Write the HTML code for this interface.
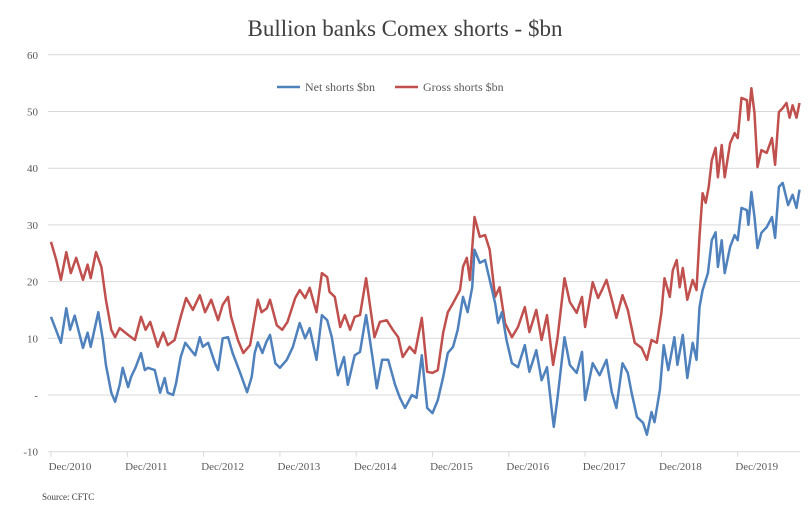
<!DOCTYPE html>
<html><head><meta charset="utf-8"><style>
body{margin:0;background:#fff;}
svg{display:block;font-family:"Liberation Serif",serif;}
</style></head><body>
<svg width="810" height="508" viewBox="0 0 810 508">
<text x="405" y="36" text-anchor="middle" font-size="23" fill="#404040">Bullion banks Comex shorts - $bn</text>
<g id="grid"></g><g id="axes"></g><g id="series"></g>
<g>
<line x1="277" y1="87" x2="300" y2="87" stroke="#4f81bd" stroke-width="2.5"/>
<text x="305" y="91" font-size="12" fill="#595959">Net shorts $bn</text>
<line x1="395" y1="87" x2="418" y2="87" stroke="#c0504d" stroke-width="2.5"/>
<text x="423" y="91" font-size="12" fill="#595959">Gross shorts $bn</text>
</g>
<text x="42" y="500" font-size="9" fill="#404040">Source: CFTC</text>
</svg>
<script>
const yTicks=[60,50,40,30,20,10,0,-10];
const yTickLabels=["60","50","40","30","20","10","-","-10"];
const xTicks=[2010.92,2011.92,2012.92,2013.92,2014.92,2015.92,2016.92,2017.92,2018.92,2019.92];
const xTickLabels=["Dec/2010","Dec/2011","Dec/2012","Dec/2013","Dec/2014","Dec/2015","Dec/2016","Dec/2017","Dec/2018","Dec/2019"];
const netDates=[2010.92,2011.05,2011.12,2011.17,2011.23,2011.34,2011.40,2011.44,2011.54,2011.60,2011.64,2011.71,2011.76,2011.82,2011.86,2011.93,2011.97,2012.03,2012.10,2012.15,2012.19,2012.28,2012.35,2012.41,2012.45,2012.52,2012.56,2012.62,2012.68,2012.75,2012.81,2012.87,2012.91,2012.98,2013.07,2013.11,2013.17,2013.24,2013.30,2013.40,
2013.49,2013.55,2013.59,2013.63,2013.69,2013.74,2013.79,2013.86,2013.92,2014.01,2014.09,2014.18,2014.25,2014.31,2014.40,2014.47,2014.54,2014.60,2014.68,2014.76,2014.81,2014.90,2014.97,2015.05,2015.13,2015.19,2015.26,2015.34,2015.43,2015.49,2015.56,2015.65,2015.71,2015.78,2015.85,
2015.92,2015.99,2016.06,2016.12,2016.19,2016.25,2016.32,2016.38,2016.44,2016.47,2016.54,2016.61,2016.67,2016.74,2016.78,2016.83,2016.89,2016.96,2017.04,2017.13,2017.19,2017.28,2017.35,2017.42,2017.48,2017.51,2017.56,2017.65,2017.72,2017.81,2017.88,2017.92,2018.02,2018.11,2018.20,2018.27,2018.33,
2018.41,2018.48,2018.53,2018.60,2018.68,2018.73,2018.79,2018.83,2018.90,2018.95,2019.01,2019.09,2019.13,2019.20,2019.26,2019.33,2019.38,2019.42,2019.46,2019.53,2019.58,2019.63,2019.66,2019.71,2019.75,2019.82,2019.88,2019.92,2019.97,2020.04,2020.06,2020.10,2020.14,2020.18,2020.23,2020.30,2020.37,2020.41,2020.46,2020.51,2020.58,2020.64,2020.69,2020.73];
const netValues=[13.8,9.2,15.3,11.5,14,8.3,11,8.5,14.6,9.7,5.3,0.4,-1.2,1.8,4.8,1.4,3.2,4.9,7.4,4.4,4.8,4.4,0.4,3,0.4,0,2.1,6.7,9.2,8,7,10.2,8.5,9.2,5.6,4.4,10,10.2,7.4,3.9,
0.5,3.2,7.4,9.3,7.4,9.3,10.6,5.6,4.8,6.2,8.5,12.7,10,11.8,6.2,14.1,13.2,10.2,3.5,6.7,1.8,7,7.6,14.1,7,1.2,6.2,6.2,1.8,-0.4,-2.3,0,-0.5,7,-2.3,
-3.2,-0.9,3.2,7.4,8.5,11.5,17.3,14.6,19,25.6,23.3,23.8,20.3,16.2,12.7,14.6,9.7,5.6,4.9,8.8,4.1,7.9,2.6,4.9,-2.3,-5.6,-0.4,10.2,5.3,3.9,7.6,-0.9,5.6,3.5,6.2,0.5,-2.3,
5.6,3.9,0.4,-3.9,-4.9,-7,-3,-4.8,0.9,8.8,4.4,10.2,5.3,10.6,3,9.2,6.2,15.5,18.5,21.5,27.3,28.7,22.6,27.3,21.5,26.1,28.2,27.3,33,32.6,30,35.8,31.4,25.9,28.6,29.6,31.4,27.7,36.7,37.4,33.5,35.3,33,36.2];
const grossDates=[2010.92,2010.99,2011.05,2011.12,2011.18,2011.25,2011.34,2011.40,2011.44,2011.51,2011.58,2011.64,2011.71,2011.76,2011.82,2011.93,2012.02,2012.10,2012.16,2012.22,2012.32,2012.39,2012.45,2012.54,2012.62,2012.69,2012.78,2012.87,2012.94,2013.02,2013.11,2013.17,2013.24,2013.28,2013.37,
2013.44,2013.53,2013.59,2013.63,2013.68,2013.75,2013.79,2013.88,2013.95,2014.02,2014.12,2014.18,2014.25,2014.31,2014.40,2014.47,2014.54,2014.57,2014.64,2014.71,2014.77,2014.84,2014.90,2014.97,2015.05,2015.10,2015.16,2015.23,2015.32,2015.40,2015.47,2015.53,2015.62,2015.69,2015.78,2015.85,2015.92,
2015.99,2016.06,2016.12,2016.19,2016.28,2016.32,2016.37,2016.41,2016.47,2016.54,2016.61,2016.67,2016.74,2016.80,2016.87,2016.96,2017.04,2017.13,2017.19,2017.28,2017.35,2017.42,2017.50,2017.56,2017.65,2017.72,2017.81,2017.88,2017.92,2018.02,2018.09,2018.14,2018.20,2018.27,2018.33,
2018.41,2018.48,2018.57,2018.66,2018.73,2018.79,2018.86,2018.92,2018.96,2019.03,2019.07,2019.12,2019.16,2019.20,2019.26,2019.33,2019.38,2019.42,2019.46,2019.50,2019.54,2019.58,2019.63,2019.66,2019.71,2019.75,2019.82,2019.88,2019.92,2019.97,2020.04,2020.06,2020.10,2020.14,2020.18,2020.23,2020.30,2020.37,2020.41,2020.46,2020.51,2020.56,2020.60,2020.64,2020.69,2020.73];
const grossValues=[27,23.8,20.3,25.2,21.5,24.2,20.3,23,20.6,25.2,22.6,16.8,11.5,10.2,11.8,10.6,9.7,13.8,11.5,12.9,8.5,11,8.8,9.7,13.8,17.1,15,17.6,14.6,16.8,13.2,15.9,17.3,13.8,9.7,
7.4,8.8,13.6,16.8,14.6,15.3,16.8,12.3,11.5,12.9,17.1,18.5,17.1,18.9,14.6,21.5,20.8,18.2,17.3,12,14.1,11.5,13.8,14.1,20.6,15.9,10.2,12.9,13.2,11.5,10.2,6.7,8.5,7.4,13.6,4.1,3.9,
4.4,11,14.6,16.2,18.5,22.6,24.2,20.3,31.4,27.9,28.2,25.6,17.3,19,12.7,10.2,12,15.5,11.1,15,9.7,14.1,5.3,10.2,20.6,16.4,14.5,17.3,12,19.9,17.1,18.5,20.3,16.8,13.6,
17.6,15,9.2,8.3,6.2,9.7,9.2,14.5,20.6,17.3,22,23.8,19,22.4,16.8,20.3,18.5,27.9,35.6,33.9,36.7,41.4,43.6,38.4,44.1,38.4,44.4,46.2,45.3,52.4,52,48.5,54.1,49.7,40.2,43.2,42.7,45.3,40.6,49.9,50.6,51.5,48.9,51.1,48.9,51.5];

const NS="http://www.w3.org/2000/svg";
const X0=51,YEARPX=76.3,T0=2010.92;
function xs(t){return X0+(t-T0)*YEARPX;}
function ys(v){return 395-v*5.67;}
function mk(tag,attrs,parent){const e=document.createElementNS(NS,tag);for(const k in attrs)e.setAttribute(k,attrs[k]);parent.appendChild(e);return e;}
const grid=document.getElementById('grid'),axes=document.getElementById('axes'),series=document.getElementById('series');
yTicks.forEach((v,i)=>{
  if(v!==-10){const g=mk('line',{x1:48,x2:800,y1:ys(v),y2:ys(v),stroke:'#d9d9d9','stroke-width':1},grid);
  
  }
  const t=mk('text',{x:38,y:ys(v)+4,'text-anchor':'end','font-size':11,fill:'#595959'},axes);
  t.textContent=yTickLabels[i];
  
  
});
const ax=mk('line',{x1:48,x2:800,y1:ys(-10),y2:ys(-10),stroke:'#d9d9d9','stroke-width':1},axes);


xTicks.forEach((t,i)=>{
  const tk=mk('line',{x1:xs(t),x2:xs(t),y1:ys(-10),y2:ys(-10)+5,stroke:'#d9d9d9'},axes);
  
  
  const l=mk('text',{x:xs(t)+19,y:470,'text-anchor':'middle','font-size':11,fill:'#595959'},axes);
  l.textContent=xTickLabels[i];
  
  
});
function pathFor(d,v){return d.map((t,i)=>(i?'L':'M')+xs(t).toFixed(1)+' '+ys(v[i]).toFixed(1)).join(' ');}
const gp=mk('path',{d:pathFor(grossDates,grossValues),fill:'none',stroke:'#c0504d','stroke-width':2.5,'stroke-linejoin':'round'},series);


const np=mk('path',{d:pathFor(netDates,netValues),fill:'none',stroke:'#4f81bd','stroke-width':2.5,'stroke-linejoin':'round'},series);


</script>
</body></html>
